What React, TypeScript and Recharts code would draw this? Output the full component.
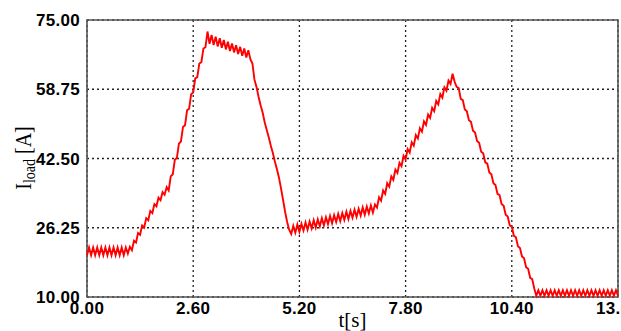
import * as React from 'react';
import { LineChart, Line, XAxis, YAxis, CartesianGrid, ReferenceArea, Label } from 'recharts';

// one sample every 50 ms, load current in A
const T_STEP = 0.05;

const xTicks = [0, 2.6, 5.2, 7.8, 10.4, 13];
const yTicks = [10, 26.25, 42.5, 58.75, 75];

// 0.00 .. 0.95 s
const idleStart = [19.8, 21.6, 19.8, 21.6, 19.8, 21.6, 19.8, 21.6, 19.8, 21.6, 19.8, 21.6, 19.8, 21.6, 19.8, 21.6, 19.8, 21.6, 19.8, 21.6];
// 1.00 .. 1.95 s
const rampSlow = [20.2, 21.8, 21.0, 23.2, 22.8, 25.0, 24.6, 26.8, 26.3, 28.5, 28.0, 30.2, 29.7, 31.8, 31.3, 33.3, 32.7, 34.6, 34.0, 35.8];
// 2.00 .. 2.90 s
const rampFast = [35.0, 38.3, 38.8, 42.2, 42.6, 46.0, 46.5, 49.9, 50.3, 53.8, 54.2, 57.6, 58.0, 61.3, 61.6, 64.8, 65.1, 68.3, 68.6];
// 2.95 .. 4.00 s
const plateauHigh = [72.3, 69.4, 71.5, 69.1, 71.1, 68.8, 70.7, 68.5, 70.3, 68.1, 69.9, 67.7, 69.5, 67.4, 69.1, 67.0, 68.7, 66.6, 68.3, 66.2, 67.9, 65.8];
// 4.05 .. 5.00 s
const dropFirst = [64.8, 61.0, 59.3, 57.0, 55.0, 53.3, 51.0, 49.2, 47.5, 45.5, 43.8, 41.8, 40.0, 38.0, 35.5, 32.8, 30.0, 27.6, 25.8, 24.8];
// 5.05 .. 7.05 s
const riseSlow = [
  26.7, 25.1, 27.0, 25.3, 27.2, 25.6, 27.5, 25.8, 27.7, 26.1, 28.0, 26.3, 28.2, 26.6, 28.5, 26.8, 28.7, 27.1, 29.0, 27.3,
  29.2, 27.6, 29.5, 27.8, 29.7, 28.1, 30.0, 28.3, 30.2, 28.6, 30.5, 28.8, 30.7, 29.1, 31.0, 29.3, 31.2, 29.6, 31.5, 29.8, 31.7,
];
// 7.10 .. 8.95 s
const riseSecond = [
  31.0, 33.4, 32.6, 35.0, 34.2, 36.7, 35.9, 38.3, 37.5, 39.9, 39.1, 41.5, 40.7, 43.1, 42.3, 44.7, 43.9, 46.3, 45.5,
  48.0, 47.2, 49.6, 48.8, 51.2, 50.4, 52.8, 52.0, 54.4, 53.6, 56.0, 55.2, 57.6, 56.8, 59.2, 58.4, 60.8, 60.0, 62.4,
];
// 9.00 .. 10.95 s
const dropStair = [
  60.5, 59.3, 59.0, 56.5, 56.2, 54.0, 53.6, 51.5, 51.1, 49.0, 48.6, 46.6, 46.2, 44.1, 43.7, 41.6, 41.3, 39.2, 38.8, 36.7,
  36.3, 34.2, 33.9, 31.8, 31.4, 29.3, 28.9, 26.8, 26.5, 24.4, 24.0, 21.9, 21.5, 19.5, 19.1, 17.0, 16.6, 14.5, 14.2, 12.0,
];
// 11.00 .. 13.00 s
const idleEnd = [
  10.3, 11.6, 10.3, 11.6, 10.3, 11.6, 10.3, 11.6, 10.3, 11.6, 10.3, 11.6, 10.3, 11.6, 10.3, 11.6, 10.3, 11.6, 10.3, 11.6,
  10.3, 11.6, 10.3, 11.6, 10.3, 11.6, 10.3, 11.6, 10.3, 11.6, 10.3, 11.6, 10.3, 11.6, 10.3, 11.6, 10.3, 11.6, 10.3, 11.6, 10.3,
];

const iLoad = [
  ...idleStart, ...rampSlow, ...rampFast, ...plateauHigh, ...dropFirst,
  ...riseSlow, ...riseSecond, ...dropStair, ...idleEnd,
];

const data = iLoad.map((v, i) => ({ t: Number((i * T_STEP).toFixed(2)), iLoad: v }));

const tickFont = {
  fontSize: 17,
  fontWeight: 700,
  fill: '#000',
  fontFamily: '"Liberation Sans", Arial, sans-serif',
  letterSpacing: 0.3,
};

const serif = '"Liberation Serif", "Times New Roman", serif';

const YTitle = () => (
  <text
    transform="translate(31,158) rotate(-90) scale(1,1.2)"
    textAnchor="middle"
    fontFamily={serif}
    fontSize={20}
    fill="#000"
  >
    I<tspan fontSize={14} dy={3}>load</tspan>
    <tspan dy={-3}> [A]</tspan>
  </text>
);

const App: React.FC = () => {
  return (
    <div style={{ position: 'absolute', left: 0, top: 0, width: 621, height: 331, background: '#fff' }}>
      <LineChart width={621} height={331} data={data} margin={{ top: 20, right: 3, bottom: 0, left: 0 }}>
        <CartesianGrid stroke="#222" strokeDasharray="2 3" strokeWidth={1.3} />
        <XAxis
          dataKey="t"
          type="number"
          domain={[0, 13]}
          ticks={xTicks}
          tickFormatter={(v: number) => v.toFixed(2)}
          tick={tickFont}
          tickLine={false}
          axisLine={false}
          tickSize={0}
          tickMargin={5}
          height={34}
          interval={0}
        >
          <Label
            value="t[s]"
            position="insideBottom"
            offset={4}
            style={{ fontFamily: serif, fontSize: 21, fill: '#000' }}
          />
        </XAxis>
        <YAxis
          type="number"
          domain={[10, 75]}
          ticks={yTicks}
          tickFormatter={(v: number) => v.toFixed(2)}
          tick={tickFont}
          tickLine={false}
          axisLine={false}
          tickSize={0}
          tickMargin={7}
          width={87}
          interval={0}
        >
          <Label content={() => <YTitle />} />
        </YAxis>
        <ReferenceArea x1={0} x2={13} y1={10} y2={75} fill="none" fillOpacity={0} stroke="#555" strokeWidth={1.6} />
        <Line
          type="linear"
          dataKey="iLoad"
          stroke="#ff0000"
          strokeWidth={1.9}
          dot={false}
          isAnimationActive={false}
        />
      </LineChart>
    </div>
  );
};

export default App;
